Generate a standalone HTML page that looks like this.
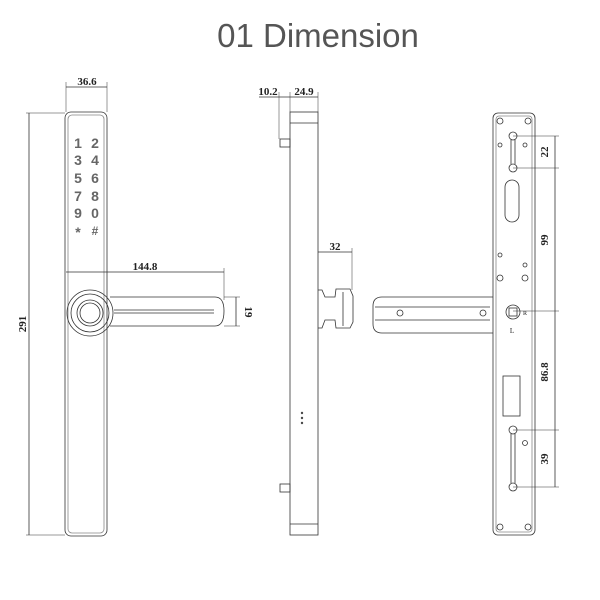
<!DOCTYPE html>
<html><head><style>
body{margin:0;background:#fff;width:600px;height:600px;overflow:hidden}
svg{display:block}
text{font-family:"Liberation Serif",serif;fill:#222}
.k{fill:#666;font-family:'Liberation Sans',sans-serif;font-size:14px}
</style></head><body>
<svg width="600" height="600" viewBox="0 0 600 600" xmlns="http://www.w3.org/2000/svg">
<text x="318" y="47" text-anchor="middle" style="font-family:'Liberation Sans',sans-serif;font-size:33px;fill:#555">01 Dimension</text>
<g fill="none" stroke="#333" stroke-width="0.8">
<rect x="65" y="112" width="42" height="424" rx="6"/>
<rect x="68" y="115" width="36" height="418" rx="4" stroke="#888"/>
<line x1="29" y1="113" x2="29" y2="535"/>
<line x1="26" y1="113" x2="65" y2="113" stroke-width="0.5"/>
<line x1="26" y1="535" x2="65" y2="535" stroke-width="0.5"/>
<line x1="66" y1="87" x2="107" y2="87"/>
<line x1="66" y1="82" x2="66" y2="112" stroke-width="0.5"/>
<line x1="107" y1="82" x2="107" y2="112" stroke-width="0.5"/>
<line x1="66" y1="272" x2="224" y2="272"/>
<line x1="224" y1="268" x2="224" y2="300" stroke-width="0.5"/>
<path d="M110 297 L215 297 Q224 297 224 311 Q224 326 215 326 L110 326"/>
<line x1="114" y1="310" x2="214" y2="310"/>
<line x1="114" y1="313" x2="214" y2="313"/>
<circle cx="90" cy="313" r="23"/>
<circle cx="90" cy="313" r="19"/>
<circle cx="90" cy="313" r="13"/>
<circle cx="90" cy="313" r="10"/>
<line x1="224" y1="297" x2="240" y2="297" stroke-width="0.5"/>
<line x1="224" y1="326" x2="240" y2="326" stroke-width="0.5"/>
<line x1="236" y1="297" x2="236" y2="326"/>
<rect x="290" y="112" width="28" height="423"/>
<line x1="290" y1="123" x2="318" y2="123"/>
<line x1="290" y1="524" x2="318" y2="524"/>
<rect x="280" y="139" width="10" height="8"/>
<rect x="280" y="484" width="10" height="8"/>
<line x1="279" y1="92" x2="279" y2="139" stroke-width="0.5"/>
<line x1="290" y1="92" x2="290" y2="112" stroke-width="0.5"/>
<line x1="318" y1="92" x2="318" y2="112" stroke-width="0.5"/>
<line x1="259" y1="97" x2="318" y2="97"/>
<line x1="318" y1="252" x2="352" y2="252"/>
<line x1="352" y1="248" x2="352" y2="290" stroke-width="0.5"/>
<path d="M318 290 L322 290 L325 297 L335 297 L336 289 L350 289 L353 296 L353 322 L350 328 L336 328 L335 320 L325 320 L322 328 L318 328"/>
<line x1="343" y1="292" x2="343" y2="326"/>
<circle cx="302" cy="413" r="0.8"/><circle cx="302" cy="418" r="0.8"/><circle cx="302" cy="423" r="0.8"/>
<rect x="493" y="113" width="42" height="422" rx="5"/>
<rect x="496" y="116" width="36" height="416" rx="3" stroke="#888"/>
<path d="M493 297 L382 297 Q373 297 373 306 L373 324 Q373 333 382 333 L493 333"/>
<line x1="375" y1="307" x2="490" y2="307"/>
<line x1="375" y1="320" x2="490" y2="320"/>
<circle cx="400" cy="313" r="3"/><circle cx="483" cy="313" r="3"/>
<circle cx="513" cy="312" r="7"/>
<rect x="509" y="308" width="8" height="8"/>
<rect x="505" y="180" width="14" height="42" rx="7"/>
<rect x="503" y="376" width="17" height="40"/>
<circle cx="513" cy="136" r="4"/><circle cx="513" cy="168" r="4"/>
<line x1="511" y1="140" x2="511" y2="164"/><line x1="515" y1="140" x2="515" y2="164"/>
<circle cx="513" cy="430" r="4"/><circle cx="513" cy="487" r="4"/>
<line x1="511" y1="434" x2="511" y2="483"/><line x1="515" y1="434" x2="515" y2="483"/>
<circle cx="500" cy="121" r="3"/><circle cx="528" cy="121" r="3"/>
<circle cx="500" cy="527" r="3"/><circle cx="528" cy="527" r="3"/>
<circle cx="500" cy="278" r="3"/><circle cx="525" cy="278" r="3"/>
<circle cx="500" cy="145" r="2"/><circle cx="525" cy="145" r="2"/>
<circle cx="500" cy="255" r="2"/><circle cx="525" cy="265" r="2"/>
<circle cx="525" cy="443" r="2.5"/>
<line x1="555" y1="136" x2="555" y2="487"/>
<line x1="513" y1="136" x2="559" y2="136" stroke-width="0.5"/>
<line x1="513" y1="168" x2="559" y2="168" stroke-width="0.5"/>
<line x1="513" y1="311" x2="559" y2="311" stroke-width="0.5"/>
<line x1="513" y1="430" x2="559" y2="430" stroke-width="0.5"/>
<line x1="513" y1="487" x2="559" y2="487" stroke-width="0.5"/>
</g>
<g text-anchor="middle" style="font-weight:bold">
<text class="k" x="78" y="148">1</text><text class="k" x="95" y="148">2</text>
<text class="k" x="78" y="165">3</text><text class="k" x="95" y="165">4</text>
<text class="k" x="78" y="183">5</text><text class="k" x="95" y="183">6</text>
<text class="k" x="78" y="201">7</text><text class="k" x="95" y="201">8</text>
<text class="k" x="78" y="218">9</text><text class="k" x="95" y="218">0</text>
<text class="k" x="78" y="237">*</text><text class="k" x="95" y="235" style="font-size:12px">#</text>
</g>
<g style="font-size:11px;font-weight:bold" text-anchor="middle">
<text x="87" y="85">36.6</text>
<text x="145" y="270">144.8</text>
<text x="26" y="324" transform="rotate(-90 26 324)">291</text>
<text x="245" y="312" transform="rotate(90 245 312)">19</text>
<text x="268" y="95">10.2</text>
<text x="304" y="95">24.9</text>
<text x="335" y="250">32</text>
<text x="548" y="152" transform="rotate(-90 548 152)">22</text>
<text x="548" y="240" transform="rotate(-90 548 240)">99</text>
<text x="548" y="372" transform="rotate(-90 548 372)">86.8</text>
<text x="548" y="459" transform="rotate(-90 548 459)">39</text>
<text x="512" y="333" style="font-size:7px;font-weight:normal">L</text>
<text x="525" y="315" style="font-size:6px;font-weight:normal">R</text>
</g>
</svg>
</body></html>
